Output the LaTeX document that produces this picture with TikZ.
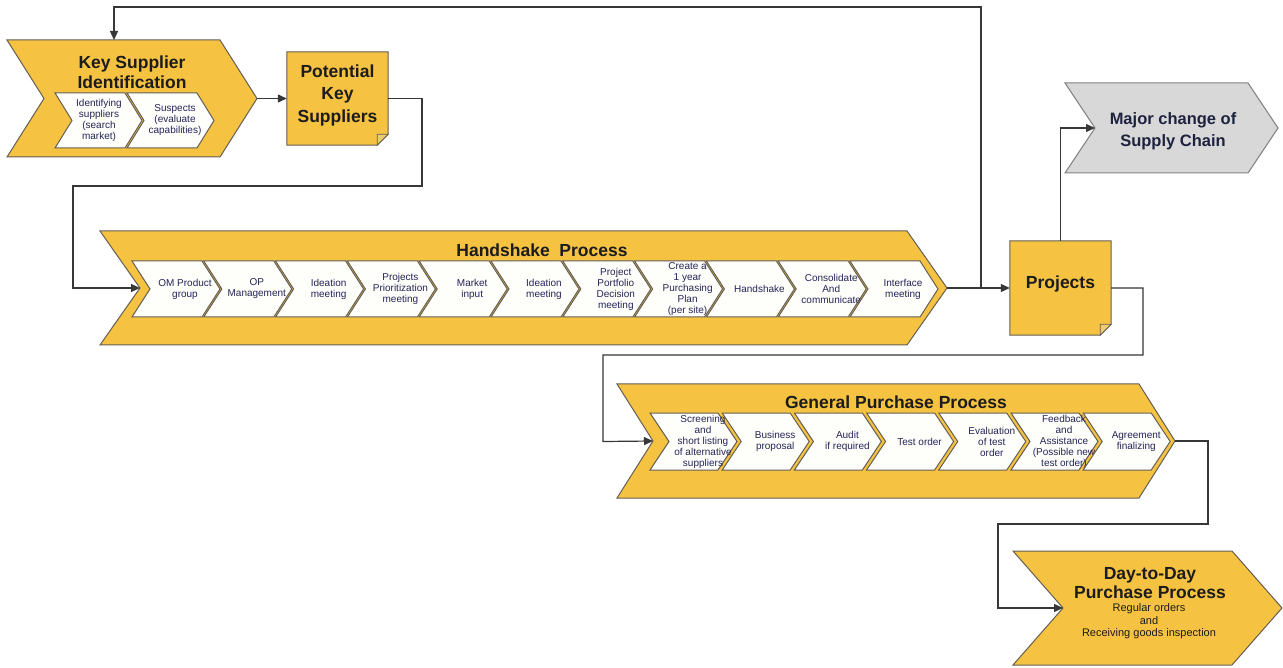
\documentclass[tikz,border=0pt]{standalone}
\usepackage{fontspec}
\setmainfont{Liberation Sans}
\usetikzlibrary{arrows.meta,calc}

\definecolor{procfill}{RGB}{245,194,66}
\definecolor{procedge}{RGB}{100,95,84}
\definecolor{stepfill}{RGB}{254,254,250}
\definecolor{steptext}{RGB}{36,36,88}
\definecolor{titletext}{RGB}{28,28,28}
\definecolor{eventfill}{RGB}{216,216,216}
\definecolor{eventedge}{RGB}{130,130,130}
\definecolor{eventtext}{RGB}{30,34,62}
\definecolor{wire}{RGB}{55,55,55}
\definecolor{foldfill}{RGB}{236,204,110}

% chevron: #1 name, #2 left x, #3 top y, #4 width, #5 height, #6 point depth, #7 style
\newcommand\chevron[7]{%
  \draw[#7] (#2,#3) -- ({#2+#4-#6},#3) -- ({#2+#4},{#3+#5/2}) -- ({#2+#4-#6},{#3+#5})
    -- (#2,{#3+#5}) -- ({#2+#6},{#3+#5/2}) -- cycle;
  \coordinate (#1-in) at ({#2+#6},{#3+#5/2});
  \coordinate (#1-out) at ({#2+#4},{#3+#5/2});
}
% white process step with its label: name, x, y, w, h, d, label options, text
\newcommand\procstep[8]{%
  \chevron{#1}{#2}{#3}{#4}{#5}{#6}{stepbox}
  \node[steplabel,#7] (#1) at ({#2+(#4+#6)/2},{#3+#5/2}) {#8};
}
% note-shaped box with folded corner: name, centre, width, height
\newcommand\notebox[4]{%
  \node[minimum width=#3pt, minimum height=#4pt, inner sep=0pt] (#1) at #2 {};
  \filldraw[procshape] (#1.north west) -- (#1.north east) -- ([yshift=11pt]#1.south east)
    -- ([xshift=-11pt]#1.south east) -- (#1.south west) -- cycle;
  \filldraw[foldshape] ([yshift=11pt]#1.south east) -- ([xshift=-11pt]#1.south east)
    -- ([xshift=-11pt,yshift=11pt]#1.south east) -- cycle;
}

\tikzset{
  procshape/.style={fill=procfill, draw=procedge, line width=1pt, line join=miter},
  stepbox/.style={fill=stepfill, draw=procedge, line width=1pt, line join=miter},
  eventshape/.style={fill=eventfill, draw=eventedge, line width=1pt, line join=miter},
  foldshape/.style={fill=foldfill, draw=procedge, line width=0.7pt},
  titlelabel/.style={font=\fontsize{17.5}{20}\selectfont\bfseries, text=titletext, align=center, inner sep=0pt},
  steplabel/.style={font=\fontsize{10}{11}\selectfont, text=steptext, align=center, inner sep=0pt},
  sublabel/.style={font=\fontsize{11}{12.5}\selectfont, text=titletext, align=center, inner sep=0pt},
  conn/.style={draw=wire, line width=1.2pt, -{Triangle[length=9pt,width=8pt]}},
}

\begin{document}
\begin{tikzpicture}[x=1pt, y=-1pt]
\useasboundingbox[fill=white] (0,0) rectangle (1283,668);

% ---- Key supplier identification ----
\chevron{ks}{7}{40}{250}{117}{37}{procshape}
\coordinate (ks-top) at (114,40);
\node[titlelabel] (ks-title) at (132,72) {Key Supplier\\Identification};
\procstep{ks0}{55}{93}{87}{55}{17}{xshift=-8pt}{Identifying\\suppliers\\(search\\market)}
\procstep{ks1}{127}{93}{87}{55}{17}{xshift=-4pt}{Suspects\\(evaluate\\capabilities)}

\notebox{pks}{(337.5,98.5)}{101}{93}
\node[titlelabel, font=\fontsize{17.5}{22.5}\selectfont\bfseries] (pks-text) at (337.5,95) {Potential\\Key\\Suppliers};

% ---- Handshake process ----
\chevron{hs}{100}{231}{847}{114}{40}{procshape}
\node[titlelabel] (hs-title) at (542,250) {Handshake\ \ Process};
\procstep{hs0}{132}{261}{88}{56}{18}{}{OM Product\\group}
\procstep{hs1}{203.8}{261}{88}{56}{18}{}{OP\\Management}
\procstep{hs2}{275.6}{261}{88}{56}{18}{}{Ideation\\meeting}
\procstep{hs3}{347.4}{261}{88}{56}{18}{}{Projects\\Prioritization\\meeting}
\procstep{hs4}{419.2}{261}{88}{56}{18}{}{Market\\input}
\procstep{hs5}{491}{261}{88}{56}{18}{}{Ideation\\meeting}
\procstep{hs6}{562.8}{261}{88}{56}{18}{}{Project\\Portfolio\\Decision\\meeting}
\procstep{hs7}{634.6}{261}{88}{56}{18}{}{Create a\\1 year\\Purchasing\\Plan\\(per site)}
\procstep{hs8}{706.4}{261}{88}{56}{18}{}{Handshake}
\procstep{hs9}{778.2}{261}{88}{56}{18}{}{Consolidate\\And\\communicate}
\procstep{hs10}{850}{261}{88}{56}{18}{}{Interface\\meeting}

% ---- Projects and major change ----
\notebox{proj}{(1060.5,288)}{101}{94}
\node[titlelabel] (proj-text) at (1060.5,284) {Projects};

\chevron{mc}{1065}{83}{213}{90}{30}{eventshape}
\node[titlelabel, font=\fontsize{16.5}{22}\selectfont\bfseries, text=eventtext] (mc-text) at (1173,131) {Major change of\\Supply Chain};

% ---- General purchase process ----
\chevron{gp}{617}{384}{558}{114}{36}{procshape}
\node[titlelabel] (gp-title) at (896,402) {General Purchase Process};
\procstep{gp0}{650}{413}{87}{57}{19}{}{Screening\\and\\short listing\\of alternative\\suppliers}
\procstep{gp1}{722.2}{413}{87}{57}{19}{}{Business\\proposal}
\procstep{gp2}{794.4}{413}{87}{57}{19}{}{Audit\\if required}
\procstep{gp3}{866.6}{413}{87}{57}{19}{}{Test order}
\procstep{gp4}{938.8}{413}{87}{57}{19}{}{Evaluation\\of test\\order}
\procstep{gp5}{1011}{413}{87}{57}{19}{}{Feedback\\and\\Assistance\\(Possible new\\test order)}
\procstep{gp6}{1083.2}{413}{87}{57}{19}{}{Agreement\\finalizing}

% ---- Day-to-day purchase process ----
\chevron{dd}{1013}{551}{269}{114}{50}{procshape}
\node[titlelabel, font=\fontsize{17.5}{19.5}\selectfont\bfseries] (dd-title) at (1150,583) {Day-to-Day\\Purchase Process};
\node[sublabel] (dd-sub) at (1149,621.5) {Regular orders\\and\\Receiving goods inspection};

% ---- connectors ----
\coordinate (split) at (981,288);
\draw[conn] (ks-out) -- (pks.west);
\draw[conn] (pks.east) -| (422,186) -| (73,288) -- (hs-in);
\draw[conn] (hs-out) -- (proj.west);
\draw[conn] (split) |- (114,7) -- (ks-top);
\draw[conn] (proj.north) |- (mc-in);
\draw[conn] (proj.east) -| (1143,355) -| (603,441.5) -- (gp-in);
\draw[conn] (gp-out) -| (1208,524) -| (998,608) -- (dd-in);
\end{tikzpicture}
\end{document}
